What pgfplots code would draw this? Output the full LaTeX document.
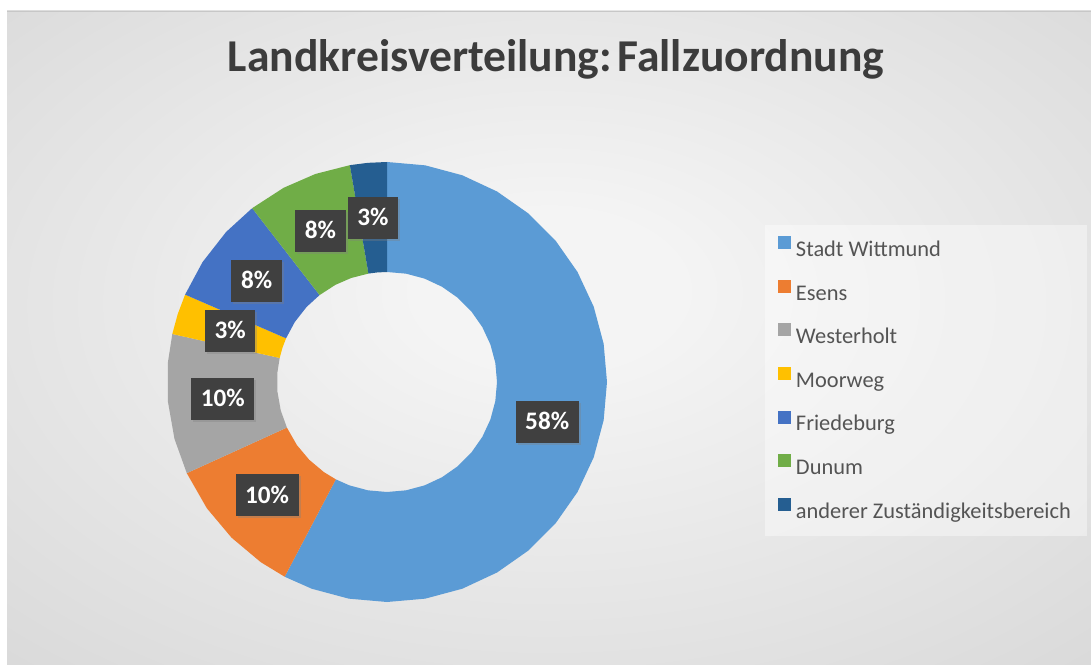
\documentclass[border=0pt]{standalone}
\usepackage{fontspec}
\setmainfont{Carlito}
\usepackage{pgfplots}
\pgfplotsset{compat=1.18}
\usetikzlibrary{shadows}
\definecolor{c1}{HTML}{5B9BD5}
\definecolor{c2}{HTML}{ED7D31}
\definecolor{c3}{HTML}{A5A5A5}
\definecolor{c4}{HTML}{FFC000}
\definecolor{c5}{HTML}{4472C4}
\definecolor{c6}{HTML}{70AD47}
\definecolor{c7}{HTML}{255E91}
\definecolor{lbl}{HTML}{404040}
\definecolor{ttl}{HTML}{3C3C3C}
\definecolor{lgt}{HTML}{545454}
\definecolor{bgin}{HTML}{F4F4F4}
\definecolor{bgout}{HTML}{C4C4C4}
\pgfdeclareradialshading{bgshade}{\pgfpoint{0bp}{4bp}}{color(0bp)=(bgin); color(6bp)=(bgin); color(62bp)=(bgout)}
\begin{document}
\begin{tikzpicture}
\useasboundingbox (0,0) rectangle (545.5pt,332pt);
\fill[white] (0,0) rectangle (545.5pt,332pt);
\shade[shading=bgshade] (3.5pt,0pt) rectangle (545.5pt,326.5pt);
\draw[black!22, line width=0.8pt] (3.5pt,326.3pt) -- (545.5pt,326.3pt);
\fill[white, opacity=0.4] (382.5pt,64pt) rectangle (543.5pt,219.5pt);
\node[anchor=base, font=\fontsize{22.8}{27}\selectfont\bfseries, text=ttl] at (278pt,296pt) {Landkreisverteilung:\hspace{0.12em}Fallzuordnung};
\begin{axis}[
  at={(83.5pt,31pt)}, anchor=south west,
  scale only axis, width=220pt, height=220pt,
  xmin=-1, xmax=1, ymin=-1, ymax=1,
  hide axis, clip=false,
  legend style={at={(1.3886,0.8227)}, anchor=north west, draw=none, fill=none,
    inner sep=0pt, row sep=11.3pt, font=\fontsize{11.2}{13}\selectfont, text=lgt,
    nodes={inner sep=0pt, text height=8pt, text depth=2.5pt}},
  legend cell align=left,
  legend image code/.code={\fill[overlay] (0pt,0.9pt) rectangle (6.3pt,7.4pt); \path (0pt,0pt) (8.8pt,0pt);},
]
\addplot[data cs=polar, fill=c1, draw=none] coordinates {
(90,1) (80,1) (70,1) (60,1) (50,1) (40,1) (30,1) (20,1) (10,1) (0,1) (-10,1) (-20,1) (-30,1) (-40,1) (-50,1) (-60,1) (-70,1) (-80,1) (-90,1) (-100,1) (-110,1) (-117.72,1)
(-117.72,0.5) (-110,0.5) (-100,0.5) (-90,0.5) (-80,0.5) (-70,0.5) (-60,0.5) (-50,0.5) (-40,0.5) (-30,0.5) (-20,0.5) (-10,0.5) (0,0.5) (10,0.5) (20,0.5) (30,0.5) (40,0.5) (50,0.5) (60,0.5) (70,0.5) (80,0.5) (90,0.5)};
\addlegendentry{Stadt Wittmund}
\addplot[data cs=polar, fill=c2, draw=none] coordinates {
(-117.72,1) (-125,1) (-135,1) (-145,1) (-155.52,1)
(-155.52,0.5) (-145,0.5) (-135,0.5) (-125,0.5) (-117.72,0.5)};
\addlegendentry{Esens}
\addplot[data cs=polar, fill=c3, draw=none] coordinates {
(-155.52,1) (-165,1) (-175,1) (-185,1) (-192.6,1)
(-192.6,0.5) (-185,0.5) (-175,0.5) (-165,0.5) (-155.52,0.5)};
\addlegendentry{Westerholt}
\addplot[data cs=polar, fill=c4, draw=none] coordinates {
(-192.6,1) (-198,1) (-203.4,1)
(-203.4,0.5) (-198,0.5) (-192.6,0.5)};
\addlegendentry{Moorweg}
\addplot[data cs=polar, fill=c5, draw=none] coordinates {
(-203.4,1) (-213,1) (-223,1) (-232.2,1)
(-232.2,0.5) (-223,0.5) (-213,0.5) (-203.4,0.5)};
\addlegendentry{Friedeburg}
\addplot[data cs=polar, fill=c6, draw=none] coordinates {
(-232.2,1) (-242,1) (-251,1) (-260.28,1)
(-260.28,0.5) (-251,0.5) (-242,0.5) (-232.2,0.5)};
\addlegendentry{Dunum}
\addplot[data cs=polar, fill=c7, draw=none] coordinates {
(-260.28,1) (-265,1) (-270,1)
(-270,0.5) (-265,0.5) (-260.28,0.5)};
\addlegendentry{anderer Zuständigkeitsbereich}
\addplot[data cs=polar, draw=none, mark=none, forget plot,
  point meta=explicit symbolic, nodes near coords,
  every node near coord/.style={anchor=center, fill=lbl, text=white,
    font=\fontsize{12.6}{14}\selectfont\bfseries, inner xsep=4.8pt, inner ysep=6.6pt,
    text height=7.8pt, text depth=0pt,
    drop shadow={shadow xshift=1pt, shadow yshift=-1pt, opacity=0.35}}]
coordinates {
(-13.86,0.75) [58\%]
(-136.62,0.75) [10\%]
(-174.06,0.75) [10\%]
(-198.0,0.75) [3\%]
(-217.8,0.75) [8\%]
(-246.24,0.75) [8\%]
(-265.14,0.75) [3\%]
};
\end{axis}
\end{tikzpicture}
\end{document}
